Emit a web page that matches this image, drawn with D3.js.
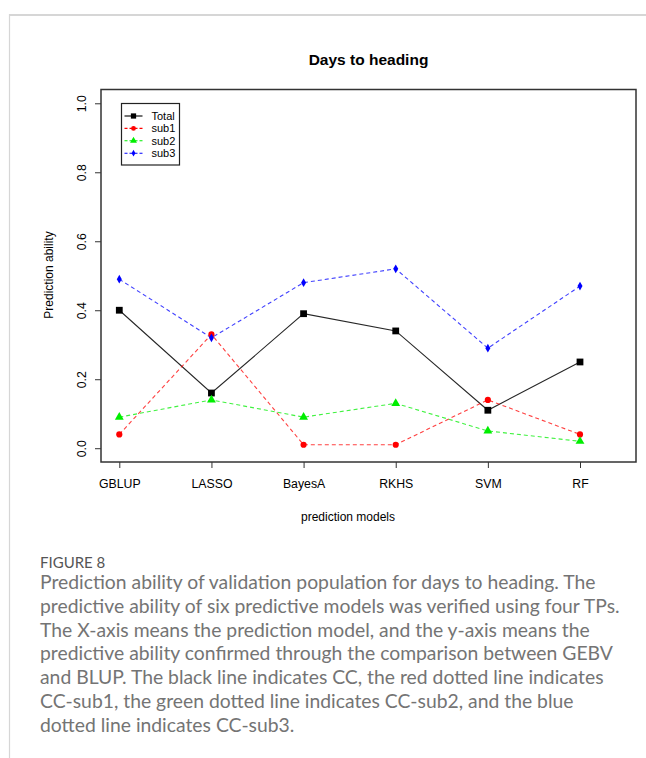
<!DOCTYPE html>
<html>
<head>
<meta charset="utf-8">
<script src="https://cdn.jsdelivr.net/npm/d3@7"></script>
<style>
  body { margin: 0; background: #fff; }
  svg { display: block; }
</style>
</head>
<body>
<svg id="fig" width="646" height="758"></svg>
<script>
// data
const models = ['GBLUP', 'LASSO', 'BayesA', 'RKHS', 'SVM', 'RF'];
const total = [0.40, 0.16, 0.39, 0.34, 0.11, 0.25];
const sub1 = [0.04, 0.33, 0.01, 0.01, 0.14, 0.04];
const sub2 = [0.09, 0.14, 0.09, 0.13, 0.05, 0.02];
const sub3 = [0.49, 0.32, 0.48, 0.52, 0.29, 0.47];
const yTicks = [0.0, 0.2, 0.4, 0.6, 0.8, 1.0];
const seriesNames = ['Total', 'sub1', 'sub2', 'sub3'];

const captionTitle = 'FIGURE 8';
const captionLines = [
  'Prediction ability of validation population for days to heading. The',
  'predictive ability of six predictive models was verified using four TPs.',
  'The X-axis means the prediction model, and the y-axis means the',
  'predictive ability confirmed through the comparison between GEBV',
  'and BLUP. The black line indicates CC, the red dotted line indicates',
  'CC-sub1, the green dotted line indicates CC-sub2, and the blue',
  'dotted line indicates CC-sub3.',
];

const svg = d3.select('#fig');
const box = { left: 101, right: 636, top: 89.5, bottom: 462 };
const font = '"Liberation Sans", Arial, sans-serif';

// page frame
svg.append('line').attr('x1', 9).attr('x2', 646).attr('y1', 15).attr('y2', 15)
  .attr('stroke', '#d6d6d6').attr('stroke-width', 2);
svg.append('line').attr('x1', 9.5).attr('x2', 9.5).attr('y1', 14).attr('y2', 758)
  .attr('stroke', '#d6d6d6').attr('stroke-width', 1.2);

const x = d3.scalePoint().domain(models).range([119.3, 580]);
const y = d3.scaleLinear().domain([-0.04, 1.04]).range([box.bottom, box.top]);

const series = [
  { name: seriesNames[0], values: total, color: '#000000', dash: null, shape: d3.symbolSquare, size: 46 },
  { name: seriesNames[1], values: sub1, color: '#ff0000', dash: '4,3', shape: d3.symbolCircle, size: 30 },
  { name: seriesNames[2], values: sub2, color: '#00ee00', dash: '4,3', shape: d3.symbolTriangle, size: 34 },
  { name: seriesNames[3], values: sub3, color: '#0000ff', dash: '4,3', shape: d3.symbolDiamond, size: 22 },
];

// title
svg.append('text').attr('x', 368.5).attr('y', 65).attr('text-anchor', 'middle')
  .style('font', `bold 15.5px ${font}`).attr('fill', '#000').text('Days to heading');

// axes
const xAxis = d3.axisBottom(x).tickSize(6).tickPadding(11);
const gx = svg.append('g').attr('transform', `translate(0,${box.bottom})`).call(xAxis);
gx.select('.domain').remove();
gx.selectAll('line').attr('stroke', '#333');
gx.selectAll('text').style('font', `12.3px ${font}`).attr('fill', '#000');

const yAxis = d3.axisLeft(y).tickValues(yTicks).tickFormat(d3.format('.1f')).tickSize(6);
const gy = svg.append('g').attr('transform', `translate(${box.left},0)`).call(yAxis);
gy.select('.domain').remove();
gy.selectAll('line').attr('stroke', '#333');
gy.selectAll('text')
  .attr('x', null).attr('dy', null).attr('text-anchor', 'middle')
  .attr('transform', 'translate(-15,0) rotate(-90)')
  .style('font', `12.3px ${font}`).attr('fill', '#000');

svg.append('text').attr('transform', 'translate(53,275) rotate(-90)').attr('text-anchor', 'middle')
  .style('font', `12px ${font}`).attr('fill', '#000').text('Prediction ability');
svg.append('text').attr('x', 348).attr('y', 521).attr('text-anchor', 'middle')
  .style('font', `12px ${font}`).attr('fill', '#000').text('prediction models');

// plot box
svg.append('rect').attr('x', box.left).attr('y', box.top)
  .attr('width', box.right - box.left).attr('height', box.bottom - box.top)
  .attr('fill', 'none').attr('stroke', '#333').attr('stroke-width', 1.5);

// lines and markers
const line = d3.line().x((d, i) => x(models[i])).y(d => y(d));
series.forEach((s) => {
  svg.append('path').datum(s.values)
    .attr('fill', 'none').attr('stroke', s.color).attr('stroke-width', 1.1)
    .attr('stroke-opacity', s.dash ? 0.75 : 0.85)
    .attr('stroke-dasharray', s.dash)
    .attr('d', line);
});
series.forEach((s) => {
  svg.selectAll(null).data(s.values).enter().append('path')
    .attr('transform', (d, i) => `translate(${x(models[i])},${y(d)})`)
    .attr('d', d3.symbol().type(s.shape).size(s.size))
    .attr('fill', s.color);
});

// legend
const lg = svg.append('g').attr('transform', 'translate(121.5,103.5)');
lg.append('rect').attr('width', 58).attr('height', 61.5)
  .attr('fill', '#fff').attr('stroke', '#222').attr('stroke-width', 1.2);
series.forEach((s, i) => {
  const ly = 12.5 + i * 12.4;
  lg.append('line').attr('x1', 3).attr('x2', 21).attr('y1', ly).attr('y2', ly)
    .attr('stroke', s.color).attr('stroke-width', 1.1)
    .attr('stroke-dasharray', s.dash ? '3,2' : null);
  lg.append('path').attr('transform', `translate(12,${ly})`)
    .attr('d', d3.symbol().type(s.shape).size(s.size * 0.6)).attr('fill', s.color);
  lg.append('text').attr('x', 30).attr('y', ly + 4)
    .style('font', `11px ${font}`).attr('fill', '#000').text(s.name);
});

// caption
const capFont = 'Lato, "Open Sans", sans-serif';
svg.append('text').attr('x', 40).attr('y', 568)
  .style('font', `15px ${capFont}`).attr('fill', '#555').text(captionTitle);
const cap = svg.append('g');
const capLines = cap.selectAll('text').data(captionLines).enter().append('text')
  .attr('x', 40).attr('y', (d, i) => 589 + i * 23.8)
  .style('font-family', capFont).style('font-size', '18px')
  .attr('fill', '#747474').text(d => d);
// fit size so that the first line spans its width in the figure
const w0 = capLines.node().getComputedTextLength();
const fs = 18 * 556 / w0;
capLines.style('font-size', `${fs}px`);
</script>
</body>
</html>
